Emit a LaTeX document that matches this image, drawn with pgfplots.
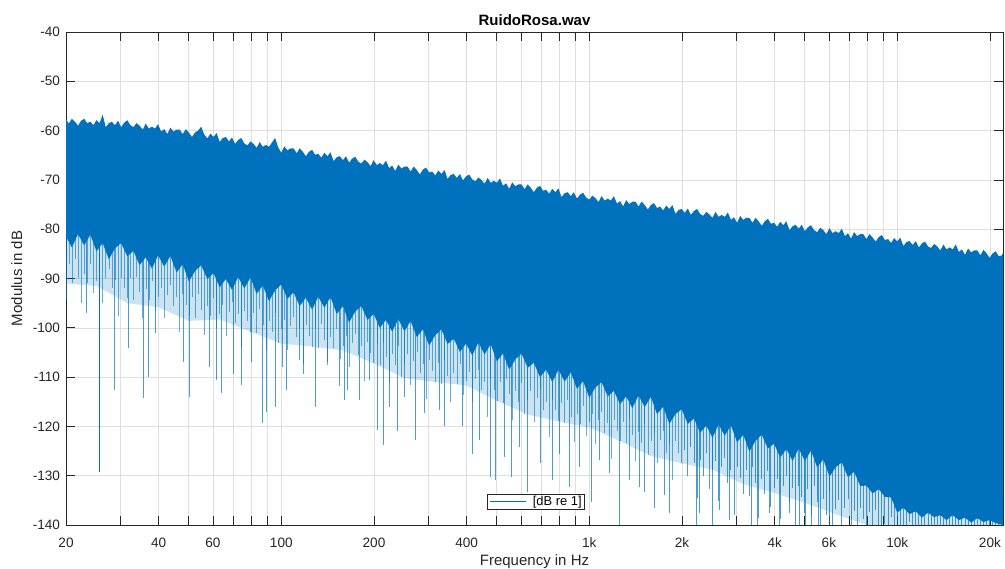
\documentclass[border=0pt]{standalone}
\usepackage{fontspec}
\setmainfont{Liberation Sans}
\usepackage{pgfplots}
\pgfplotsset{compat=1.18}
\definecolor{mblue}{RGB}{0,114,189}
\definecolor{axgray}{RGB}{38,38,38}
\definecolor{gridgray}{RGB}{223,223,223}
\begin{document}
\begin{tikzpicture}
\useasboundingbox (-66pt,-44pt) rectangle (939pt,525pt);
\begin{axis}[
  scale only axis, width=937pt, height=493pt,
  at={(0pt,0pt)}, anchor=south west,
  xmode=log, xmin=20, xmax=22050, ymin=-140, ymax=-40,
  xtick={20,30,40,50,60,70,80,90,100,200,300,400,500,600,700,800,900,1000,2000,3000,4000,5000,6000,7000,8000,9000,10000,20000},
  xticklabels={20,{},40,{},60,{},{},{},100,200,{},400,{},{},{},{},{},1k,2k,{},4k,{},6k,{},{},{},10k,20k},
  ytick={-140,-130,-120,-110,-100,-90,-80,-70,-60,-50,-40},
  yticklabels={-140,-130,-120,-110,-100,-90,-80,-70,-60,-50,-40},
  grid=major,
  major grid style={draw=gridgray, line width=0.5pt},
  tick align=inside,
  major tick length=9.4pt,
  minor tick length=0pt,
  axis line style={draw=axgray, line width=0.6pt},
  every tick/.style={draw=axgray, line width=0.6pt},
  tick label style={font=\fontsize{13.6}{16}\selectfont, text=axgray},
  xticklabel style={yshift=-9.5pt},
  yticklabel style={xshift=-2.5pt},
  every axis title/.style={at={(axis description cs:0.5,1)}, anchor=base, yshift=6pt, font=\bfseries\fontsize{15}{18}\selectfont, text=black},
  every axis x label/.style={at={(axis description cs:0.5,0)}, anchor=base, yshift=-40.7pt, font=\fontsize{15}{18}\selectfont, text=axgray},
  every axis y label/.style={at={(axis description cs:-0.0525,0.5)}, anchor=center, rotate=90, font=\fontsize{15}{18}\selectfont, text=axgray},
  title={RuidoRosa.wav},
  xlabel={Frequency in Hz},
  ylabel={Modulus in dB},
  legend style={at={(axis description cs:0.5016,0.0318)}, anchor=south, draw=axgray, line width=0.5pt, fill=white, font=\fontsize{12.9}{15}\selectfont, inner xsep=2pt, inner ysep=0.5pt, nodes={inner xsep=1pt, inner ysep=1.5pt}},
  legend cell align=left,
]
% light haze of thin spikes just below the dense body
\addplot[forget plot, fill=mblue, fill opacity=0.2, draw=none] table[row sep=\\] {
x y \\
20 -79 \\ 25.12 -80.5 \\ 31.62 -82 \\ 39.81 -83.8 \\ 50.12 -85.6 \\ 63.10 -87.3 \\ 79.43 -88.8 \\ 100 -90.2 \\ 125.9 -91.8 \\ 158.5 -93.6 \\
199.5 -95.2 \\ 251.2 -97.2 \\ 316.2 -99 \\ 398.1 -100.7 \\ 501.2 -102.8 \\ 631 -104.6 \\ 794.3 -107 \\ 1000 -109.2 \\ 1259 -111 \\ 1585 -113 \\
1995 -115.5 \\ 2512 -117.8 \\ 3162 -119.7 \\ 3981 -121.5 \\ 5012 -123.5 \\ 6310 -125.8 \\ 7943 -128 \\ 10000 -131 \\ 12590 -132 \\ 15850 -133 \\
19950 -134.2 \\ 22050 -134.5 \\
22050 -143 \\ 19950 -143 \\ 15850 -143 \\ 12590 -143 \\ 10000 -143 \\ 7943 -140 \\ 6310 -137.8 \\ 5012 -135.5 \\ 3981 -133.5 \\ 3162 -131.7 \\
2512 -128.8 \\ 1995 -127.5 \\ 1585 -126 \\ 1259 -123 \\ 1000 -120.2 \\ 794.3 -119 \\ 631 -117.6 \\ 501.2 -114.8 \\ 398.1 -111.7 \\ 316.2 -111 \\
251.2 -110.2 \\ 199.5 -107.2 \\ 158.5 -104.6 \\ 125.9 -103.8 \\ 100 -103.2 \\ 79.43 -100.8 \\ 63.10 -98.3 \\ 50.12 -98.6 \\ 39.81 -95.8 \\ 31.62 -95 \\
25.12 -91.5 \\ 20 -91 \\
};
% dense body of the spectrum: upper envelope (left to right), then lower dense edge (right to left)
\addplot[forget plot, fill=mblue, draw=none] table[row sep=\\] {
x y \\
20.00 -57.7 \\ 20.42 -58.6 \\ 20.89 -57.6 \\ 21.38 -58.2 \\ 21.88 -59.0 \\ 22.39 -58.0 \\ 22.91 -57.6 \\ 23.44 -58.5 \\ 23.99 -58.2 \\ 24.55 -58.9 \\
25.12 -57.9 \\ 25.70 -58.5 \\ 26.30 -56.8 \\ 26.92 -59.3 \\ 27.54 -58.5 \\ 28.18 -58.2 \\ 28.84 -58.9 \\ 29.51 -58.0 \\ 30.20 -59.3 \\ 30.90 -58.4 \\
31.62 -57.9 \\ 32.36 -58.9 \\ 33.11 -59.3 \\ 33.88 -58.5 \\ 34.67 -59.0 \\ 35.48 -59.8 \\ 36.31 -58.6 \\ 37.15 -59.6 \\ 38.02 -59.2 \\ 38.90 -59.6 \\
39.81 -58.7 \\ 40.74 -60.2 \\ 41.69 -59.7 \\ 42.66 -60.7 \\ 43.65 -59.4 \\ 44.67 -60.2 \\ 45.71 -59.8 \\ 46.77 -59.8 \\ 47.86 -60.7 \\ 48.98 -59.7 \\
50.12 -60.4 \\ 51.29 -61.3 \\ 52.48 -60.4 \\ 53.70 -60.0 \\ 54.95 -59.2 \\ 56.23 -60.8 \\ 57.54 -61.6 \\ 58.88 -60.6 \\ 60.26 -61.3 \\ 61.66 -60.5 \\
63.10 -62.3 \\ 64.57 -61.5 \\ 66.07 -61.3 \\ 67.61 -62.2 \\ 69.18 -61.4 \\ 70.79 -62.7 \\ 72.44 -61.9 \\ 74.13 -61.5 \\ 75.86 -62.6 \\ 77.62 -63.0 \\
79.43 -62.2 \\ 81.28 -62.7 \\ 83.18 -63.5 \\ 85.11 -62.3 \\ 87.10 -63.3 \\ 89.13 -62.9 \\ 91.20 -63.3 \\ 93.33 -62.4 \\ 95.50 -61.5 \\ 97.72 -63.4 \\
100.0 -64.5 \\ 102.3 -63.2 \\ 104.7 -64.0 \\ 107.2 -63.6 \\ 109.6 -63.6 \\ 112.2 -64.6 \\ 114.8 -63.6 \\ 117.5 -64.3 \\ 120.2 -65.2 \\ 123.0 -64.3 \\
125.9 -63.9 \\ 128.8 -64.9 \\ 131.8 -64.7 \\ 134.9 -65.5 \\ 138.0 -64.5 \\ 141.3 -65.2 \\ 144.5 -64.4 \\ 147.9 -66.2 \\ 151.4 -65.4 \\ 154.9 -65.2 \\
158.5 -66.0 \\ 162.2 -65.2 \\ 166.0 -66.5 \\ 169.8 -65.7 \\ 173.8 -65.3 \\ 177.8 -66.3 \\ 182.0 -66.7 \\ 186.2 -65.9 \\ 190.5 -66.4 \\ 195.0 -67.2 \\
199.5 -66.0 \\ 204.2 -67.0 \\ 208.9 -66.6 \\ 213.8 -67.0 \\ 218.8 -66.1 \\ 223.9 -67.6 \\ 229.1 -67.1 \\ 234.4 -68.2 \\ 239.9 -66.9 \\ 245.5 -67.7 \\
251.2 -67.3 \\ 257.0 -67.3 \\ 263.0 -68.3 \\ 269.2 -67.3 \\ 275.4 -68.0 \\ 281.8 -68.9 \\ 288.4 -67.9 \\ 295.1 -67.5 \\ 302.0 -68.5 \\ 309.0 -68.3 \\
316.2 -69.1 \\ 323.6 -68.1 \\ 331.1 -68.8 \\ 338.8 -68.0 \\ 346.7 -69.8 \\ 354.8 -69.0 \\ 363.1 -68.8 \\ 371.5 -69.6 \\ 380.2 -68.8 \\ 389.0 -70.1 \\
398.1 -69.3 \\ 407.4 -68.9 \\ 416.9 -69.9 \\ 426.6 -70.3 \\ 436.5 -69.5 \\ 446.7 -70.0 \\ 457.1 -70.8 \\ 467.7 -69.6 \\ 478.6 -70.6 \\ 489.8 -70.2 \\
501.2 -70.6 \\ 512.9 -69.7 \\ 524.8 -71.2 \\ 537.0 -70.7 \\ 549.5 -71.8 \\ 562.3 -70.5 \\ 575.4 -71.3 \\ 588.8 -70.9 \\ 602.6 -70.9 \\ 616.6 -71.9 \\
631.0 -70.9 \\ 645.7 -71.6 \\ 660.7 -72.5 \\ 676.1 -71.6 \\ 691.8 -71.2 \\ 707.9 -72.2 \\ 724.4 -72.0 \\ 741.3 -72.8 \\ 758.6 -71.8 \\ 776.2 -72.5 \\
794.3 -71.7 \\ 812.8 -73.5 \\ 831.8 -72.7 \\ 851.1 -72.5 \\ 871.0 -73.3 \\ 891.3 -72.5 \\ 912.0 -73.8 \\ 933.3 -73.0 \\ 955.0 -72.6 \\ 977.2 -73.6 \\
1000 -74.0 \\ 1023 -73.2 \\ 1047 -73.7 \\ 1072 -74.5 \\ 1096 -73.3 \\ 1122 -74.2 \\ 1148 -73.8 \\ 1175 -74.2 \\ 1202 -73.3 \\ 1230 -74.8 \\
1259 -74.3 \\ 1288 -75.4 \\ 1318 -74.1 \\ 1349 -74.9 \\ 1380 -74.4 \\ 1413 -74.4 \\ 1445 -75.4 \\ 1479 -74.4 \\ 1514 -75.1 \\ 1549 -76.0 \\
1585 -75.1 \\ 1622 -74.7 \\ 1660 -75.7 \\ 1698 -75.4 \\ 1738 -76.2 \\ 1778 -75.2 \\ 1820 -75.9 \\ 1862 -75.1 \\ 1905 -76.9 \\ 1950 -76.1 \\
1995 -75.9 \\ 2042 -76.7 \\ 2089 -75.8 \\ 2138 -77.1 \\ 2188 -76.3 \\ 2239 -75.9 \\ 2291 -76.9 \\ 2344 -77.3 \\ 2399 -76.5 \\ 2455 -77.0 \\
2512 -77.7 \\ 2570 -76.5 \\ 2630 -77.5 \\ 2692 -77.1 \\ 2754 -77.5 \\ 2818 -76.6 \\ 2884 -78.1 \\ 2951 -77.6 \\ 3020 -78.7 \\ 3090 -77.3 \\
3162 -78.1 \\ 3236 -77.7 \\ 3311 -77.7 \\ 3388 -78.7 \\ 3467 -77.7 \\ 3548 -78.4 \\ 3631 -79.3 \\ 3715 -78.4 \\ 3802 -77.9 \\ 3890 -78.9 \\
3981 -78.7 \\ 4074 -79.5 \\ 4169 -78.5 \\ 4266 -79.2 \\ 4365 -78.4 \\ 4467 -80.2 \\ 4571 -79.4 \\ 4677 -79.1 \\ 4786 -79.9 \\ 4898 -79.1 \\
5012 -80.4 \\ 5129 -79.6 \\ 5248 -79.2 \\ 5370 -80.2 \\ 5495 -80.6 \\ 5623 -79.7 \\ 5754 -80.2 \\ 5888 -81.0 \\ 6026 -79.8 \\ 6166 -80.8 \\
6310 -80.4 \\ 6457 -80.8 \\ 6607 -79.9 \\ 6761 -81.4 \\ 6918 -80.8 \\ 7079 -81.9 \\ 7244 -80.6 \\ 7413 -81.4 \\ 7586 -81.0 \\ 7762 -81.0 \\
7943 -82.0 \\ 8128 -81.0 \\ 8318 -81.7 \\ 8511 -82.5 \\ 8710 -81.6 \\ 8913 -81.2 \\ 9120 -82.2 \\ 9333 -82.0 \\ 9550 -82.8 \\ 9772 -81.8 \\
10000 -82.5 \\ 10230 -81.7 \\ 10470 -83.4 \\ 10720 -82.6 \\ 10960 -82.4 \\ 11220 -83.2 \\ 11480 -82.4 \\ 11750 -83.7 \\ 12020 -82.9 \\ 12300 -82.5 \\
12590 -83.5 \\ 12880 -83.8 \\ 13180 -83.0 \\ 13490 -83.5 \\ 13800 -84.3 \\ 14130 -83.1 \\ 14450 -84.1 \\ 14790 -83.7 \\ 15140 -84.1 \\ 15490 -83.1 \\
15850 -84.6 \\ 16220 -84.1 \\ 16600 -85.2 \\ 16980 -83.9 \\ 17380 -84.7 \\ 17780 -84.3 \\ 18200 -84.3 \\ 18620 -85.3 \\ 19050 -84.2 \\ 19500 -84.9 \\
19950 -85.8 \\ 20420 -84.9 \\ 20890 -84.5 \\ 21380 -85.5 \\ 21880 -85.3 \\ 22050 -84.8 \\
22050 -140 \\ 20890 -139.6 \\ 19950 -139.0 \\ 19050 -139.4 \\ 18200 -138.6 \\ 17380 -139.5 \\ 16600 -138.5 \\ 15850 -139.0 \\ 15140 -138.0 \\ 14450 -139.0 \\
13800 -138.0 \\ 13180 -138.4 \\ 12590 -137.5 \\ 12020 -138.5 \\ 11480 -137.2 \\ 10960 -137.8 \\ 10470 -136.5 \\ 10000 -137.5 \\ 9550 -134.4 \\ 9120 -134.3 \\
8710 -132.7 \\ 8318 -133.6 \\ 7943 -132.0 \\ 7586 -132.1 \\ 7244 -129.2 \\ 6918 -130.3 \\ 6607 -127.3 \\ 6310 -128.3 \\ 6026 -130.2 \\ 5754 -126.7 \\
5495 -128.3 \\ 5248 -124.9 \\ 5012 -127.0 \\ 4786 -124.5 \\ 4571 -127.0 \\ 4365 -124.6 \\ 4169 -126.3 \\ 3981 -123.5 \\ 3802 -124.5 \\ 3631 -121.7 \\
3467 -122.9 \\ 3311 -125.1 \\ 3162 -121.7 \\ 3020 -123.2 \\ 2884 -119.8 \\ 2754 -121.9 \\ 2630 -119.6 \\ 2512 -122.3 \\ 2399 -119.8 \\ 2291 -121.3 \\
2188 -118.4 \\ 2089 -119.5 \\ 1995 -116.5 \\ 1905 -117.5 \\ 1820 -119.5 \\ 1738 -116.0 \\ 1660 -117.5 \\ 1585 -114.0 \\ 1514 -116.1 \\ 1445 -113.7 \\
1380 -116.3 \\ 1318 -113.9 \\ 1259 -115.5 \\ 1202 -112.8 \\ 1148 -113.9 \\ 1096 -111.0 \\ 1047 -112.1 \\ 1000 -114.2 \\ 955.0 -110.8 \\ 912.0 -112.4 \\
871.0 -109.0 \\ 831.8 -110.9 \\ 794.3 -108.5 \\ 758.6 -111.0 \\ 724.4 -108.5 \\ 691.8 -110.0 \\ 660.7 -107.1 \\ 631.0 -108.1 \\ 602.6 -105.2 \\ 575.4 -106.4 \\
549.5 -108.5 \\ 524.8 -105.2 \\ 501.2 -106.8 \\ 478.6 -103.3 \\ 457.1 -105.4 \\ 436.5 -103.0 \\ 416.9 -105.6 \\ 398.1 -103.2 \\ 380.2 -104.9 \\ 363.1 -102.2 \\
346.7 -103.3 \\ 331.1 -100.3 \\ 316.2 -101.5 \\ 302.0 -103.6 \\ 288.4 -100.3 \\ 275.4 -101.9 \\ 263.0 -98.6 \\ 251.2 -100.7 \\ 239.9 -98.2 \\ 229.1 -100.8 \\
218.8 -98.4 \\ 208.9 -100.0 \\ 199.5 -97.2 \\ 190.5 -98.4 \\ 182.0 -95.6 \\ 173.8 -96.7 \\ 166.0 -98.9 \\ 158.5 -95.6 \\ 151.4 -97.2 \\ 144.5 -93.8 \\
138.0 -95.9 \\ 131.8 -93.7 \\ 125.9 -96.3 \\ 120.2 -93.9 \\ 114.8 -95.6 \\ 109.6 -92.8 \\ 104.7 -94.1 \\ 100.0 -91.2 \\ 95.50 -92.4 \\ 91.20 -94.6 \\
87.10 -91.4 \\ 83.18 -93.1 \\ 79.43 -89.8 \\ 75.86 -92.0 \\ 72.44 -89.7 \\ 69.18 -92.3 \\ 66.07 -90.1 \\ 63.10 -91.8 \\ 60.26 -88.9 \\ 57.54 -90.1 \\
54.95 -87.3 \\ 52.48 -88.5 \\ 50.12 -90.6 \\ 47.86 -87.1 \\ 45.71 -88.8 \\ 43.65 -85.4 \\ 41.69 -87.6 \\ 39.81 -85.3 \\ 38.02 -88.0 \\ 36.31 -85.7 \\
34.67 -87.3 \\ 33.11 -84.4 \\ 31.62 -85.5 \\ 30.20 -82.8 \\ 28.84 -83.9 \\ 27.54 -86.1 \\ 26.30 -82.8 \\ 25.12 -84.5 \\ 23.99 -81.1 \\ 22.91 -83.3 \\
21.88 -81.0 \\ 20.89 -83.7 \\ 20.00 -81.5 \\
};
% downward spikes below the dense region, low frequencies
\addplot[forget plot, mblue, opacity=0.6, line width=0.55pt, no markers, unbounded coords=jump] table[row sep=\\] {
x y \\
20.42 -77 \\ 20.42 -87 \\ 20.42 nan \\ 20.89 -77 \\ 20.89 -91 \\ 20.89 nan \\ 21.38 -77 \\ 21.38 -86 \\ 21.38 nan \\ 21.88 -78 \\ 21.88 -90 \\ 21.88 nan \\
22.39 -78 \\ 22.39 -95 \\ 22.39 nan \\ 22.91 -78 \\ 22.91 -89 \\ 22.91 nan \\ 23.44 -78 \\ 23.44 -91 \\ 23.44 nan \\ 23.99 -78 \\ 23.99 -87 \\ 23.99 nan \\
24.55 -78 \\ 24.55 -93 \\ 24.55 nan \\ 25.12 -79 \\ 25.12 -90.5 \\ 25.12 nan \\ 25.70 -79 \\ 25.70 -89 \\ 25.70 nan \\ 26.30 -79 \\ 26.30 -95 \\ 26.30 nan \\
26.92 -79 \\ 26.92 -90 \\ 26.92 nan \\ 27.54 -79 \\ 27.54 -88 \\ 27.54 nan \\ 28.18 -79 \\ 28.18 -92 \\ 28.18 nan \\ 28.84 -79 \\ 28.84 -90.4 \\ 28.84 nan \\
29.51 -80 \\ 29.51 -97.6 \\ 29.51 nan \\ 30.20 -80 \\ 30.20 -89.8 \\ 30.20 nan \\ 30.90 -80 \\ 30.90 -92 \\ 30.90 nan \\ 31.62 -80 \\ 31.62 -94 \\ 31.62 nan \\
32.36 -80 \\ 32.36 -90 \\ 32.36 nan \\ 33.11 -80 \\ 33.11 -94.4 \\ 33.11 nan \\ 33.88 -81 \\ 33.88 -89.6 \\ 33.88 nan \\ 34.67 -81 \\ 34.67 -92.8 \\ 34.67 nan \\
35.48 -81 \\ 35.48 -98 \\ 35.48 nan \\ 36.31 -81 \\ 36.31 -92.2 \\ 36.31 nan \\ 37.15 -81 \\ 37.15 -94.3 \\ 37.15 nan \\ 38.02 -81 \\ 38.02 -90.5 \\ 38.02 nan \\
38.90 -82 \\ 38.90 -96.6 \\ 38.90 nan \\ 39.81 -82 \\ 39.81 -93.8 \\ 39.81 nan \\ 40.74 -82 \\ 40.74 -92 \\ 40.74 nan \\ 41.69 -82 \\ 41.69 -98.1 \\ 41.69 nan \\
42.66 -82 \\ 42.66 -93.3 \\ 42.66 nan \\ 43.65 -82 \\ 43.65 -91.4 \\ 43.65 nan \\ 44.67 -83 \\ 44.67 -95.6 \\ 44.67 nan \\ 45.71 -83 \\ 45.71 -93.8 \\ 45.71 nan \\
46.77 -83 \\ 46.77 -100.9 \\ 46.77 nan \\ 47.86 -83 \\ 47.86 -93.1 \\ 47.86 nan \\ 48.98 -83 \\ 48.98 -95.4 \\ 48.98 nan \\ 50.12 -84 \\ 50.12 -97.6 \\ 50.12 nan \\
51.29 -84 \\ 51.29 -93.8 \\ 51.29 nan \\ 52.48 -84 \\ 52.48 -98 \\ 52.48 nan \\ 53.70 -84 \\ 53.70 -93.1 \\ 53.70 nan \\ 54.95 -84 \\ 54.95 -96.3 \\ 54.95 nan \\
56.23 -84 \\ 56.23 -101.4 \\ 56.23 nan \\ 57.54 -85 \\ 57.54 -95.6 \\ 57.54 nan \\ 58.88 -85 \\ 58.88 -97.7 \\ 58.88 nan \\ 60.26 -85 \\ 60.26 -93.9 \\ 60.26 nan \\
61.66 -85 \\ 61.66 -100.1 \\ 61.66 nan \\ 63.10 -85 \\ 63.10 -97.3 \\ 63.10 nan \\ 64.57 -85 \\ 64.57 -95.4 \\ 64.57 nan \\ 66.07 -86 \\ 66.07 -101.6 \\ 66.07 nan \\
67.61 -86 \\ 67.61 -96.7 \\ 67.61 nan \\ 69.18 -86 \\ 69.18 -94.8 \\ 69.18 nan \\ 70.79 -86 \\ 70.79 -99 \\ 70.79 nan \\ 72.44 -86 \\ 72.44 -97.2 \\ 72.44 nan \\
74.13 -86 \\ 74.13 -104.3 \\ 74.13 nan \\ 75.86 -87 \\ 75.86 -96.5 \\ 75.86 nan \\ 77.62 -87 \\ 77.62 -98.7 \\ 77.62 nan \\ 79.43 -87 \\ 79.43 -100.8 \\ 79.43 nan \\
81.28 -87 \\ 81.28 -96.9 \\ 81.28 nan \\ 83.18 -87 \\ 83.18 -101.1 \\ 83.18 nan \\ 85.11 -87 \\ 85.11 -96.2 \\ 85.11 nan \\ 87.10 -87 \\ 87.10 -99.4 \\ 87.10 nan \\
89.13 -88 \\ 89.13 -104.5 \\ 89.13 nan \\ 91.20 -88 \\ 91.20 -98.6 \\ 91.20 nan \\ 93.33 -88 \\ 93.33 -100.8 \\ 93.33 nan \\ 95.50 -88 \\ 95.50 -96.9 \\ 95.50 nan \\
97.72 -88 \\ 97.72 -103.1 \\ 97.72 nan \\ 100.0 -88 \\ 100.0 -100.2 \\ 100.0 nan \\ 102.3 -88 \\ 102.3 -98.4 \\ 102.3 nan \\ 104.7 -89 \\ 104.7 -104.6 \\ 104.7 nan \\
107.2 -89 \\ 107.2 -99.7 \\ 107.2 nan \\ 109.6 -89 \\ 109.6 -97.8 \\ 109.6 nan \\ 112.2 -89 \\ 112.2 -101.9 \\ 112.2 nan \\ 114.8 -89 \\ 114.8 -100.1 \\ 114.8 nan \\
117.5 -89 \\ 117.5 -107.3 \\ 117.5 nan \\ 120.2 -89 \\ 120.2 -99.4 \\ 120.2 nan \\ 123.0 -90 \\ 123.0 -101.6 \\ 123.0 nan \\ 125.9 -90 \\ 125.9 -103.8 \\ 125.9 nan \\
128.8 -90 \\ 128.8 -100 \\ 128.8 nan \\ 131.8 -90 \\ 131.8 -104.2 \\ 131.8 nan \\ 134.9 -90 \\ 134.9 -99.2 \\ 134.9 nan \\ 138.0 -90 \\ 138.0 -102.4 \\ 138.0 nan \\
141.3 -91 \\ 141.3 -107.6 \\ 141.3 nan \\ 144.5 -91 \\ 144.5 -101.8 \\ 144.5 nan \\ 147.9 -91 \\ 147.9 -104 \\ 147.9 nan \\ 151.4 -91 \\ 151.4 -100.2 \\ 151.4 nan \\
154.9 -91 \\ 154.9 -106.4 \\ 154.9 nan \\ 158.5 -92 \\ 158.5 -103.6 \\ 158.5 nan \\ 162.2 -92 \\ 162.2 -101.7 \\ 162.2 nan \\ 166.0 -92 \\ 166.0 -107.9 \\ 166.0 nan \\
169.8 -92 \\ 169.8 -103.1 \\ 169.8 nan \\ 173.8 -92 \\ 173.8 -101.2 \\ 173.8 nan \\ 177.8 -93 \\ 177.8 -105.5 \\ 177.8 nan \\ 182.0 -93 \\ 182.0 -103.6 \\ 182.0 nan \\
186.2 -93 \\ 186.2 -110.8 \\ 186.2 nan \\ 190.5 -93 \\ 190.5 -102.9 \\ 190.5 nan \\ 195.0 -93 \\ 195.0 -105.1 \\ 195.0 nan \\ 199.5 -93 \\ 199.5 -107.2 \\ 199.5 nan \\
204.2 -93 \\ 204.2 -103.4 \\ 204.2 nan \\ 208.9 -94 \\ 208.9 -107.5 \\ 208.9 nan \\ 213.8 -94 \\ 213.8 -102.8 \\ 213.8 nan \\ 218.8 -94 \\ 218.8 -105.9 \\ 218.8 nan \\
223.9 -94 \\ 223.9 -111 \\ 223.9 nan \\ 229.1 -94 \\ 229.1 -105.3 \\ 229.1 nan \\ 234.4 -95 \\ 234.4 -107.5 \\ 234.4 nan \\ 239.9 -95 \\ 239.9 -103.7 \\ 239.9 nan \\
245.5 -95 \\ 245.5 -110 \\ 245.5 nan \\ 251.2 -95 \\ 251.2 -107.2 \\ 251.2 nan \\ 257.0 -95 \\ 257.0 -105.4 \\ 257.0 nan \\ 263.0 -96 \\ 263.0 -111.6 \\ 263.0 nan \\
269.2 -96 \\ 269.2 -106.8 \\ 269.2 nan \\ 275.4 -96 \\ 275.4 -104.9 \\ 275.4 nan \\ 281.8 -96 \\ 281.8 -109.1 \\ 281.8 nan \\ 288.4 -96 \\ 288.4 -107.3 \\ 288.4 nan \\
295.1 -97 \\ 295.1 -114.5 \\ 295.1 nan \\ 302.0 -97 \\ 302.0 -106.6 \\ 302.0 nan \\ 309.0 -97 \\ 309.0 -108.8 \\ 309.0 nan \\ 316.2 -97 \\ 316.2 -111 \\ 316.2 nan \\
323.6 -97 \\ 323.6 -107.2 \\ 323.6 nan \\ 331.1 -97 \\ 331.1 -111.3 \\ 331.1 nan \\ 338.8 -98 \\ 338.8 -106.6 \\ 338.8 nan \\ 346.7 -98 \\ 346.7 -109.8 \\ 346.7 nan \\
354.8 -98 \\ 354.8 -115 \\ 354.8 nan \\ 363.1 -98 \\ 363.1 -109.2 \\ 363.1 nan \\ 371.5 -98 \\ 371.5 -111.3 \\ 371.5 nan \\ 380.2 -98 \\ 380.2 -107.4 \\ 380.2 nan \\
389.0 -99 \\ 389.0 -113.6 \\ 389.0 nan \\ 398.1 -99 \\ 398.1 -110.7 \\ 398.1 nan \\ 407.4 -99 \\ 407.4 -108.9 \\ 407.4 nan \\ 416.9 -99 \\ 416.9 -115.1 \\ 416.9 nan \\
426.6 -99 \\ 426.6 -110.3 \\ 426.6 nan \\ 436.5 -100 \\ 436.5 -108.5 \\ 436.5 nan \\ 446.7 -100 \\ 446.7 -112.7 \\ 446.7 nan \\ 457.1 -100 \\ 457.1 -110.9 \\ 457.1 nan \\
467.7 -100 \\ 467.7 -118.1 \\ 467.7 nan \\ 478.6 -100 \\ 478.6 -110.3 \\ 478.6 nan \\ 489.8 -101 \\ 489.8 -112.6 \\ 489.8 nan \\ 501.2 -101 \\ 501.2 -114.8 \\ 501.2 nan \\
512.9 -101 \\ 512.9 -111 \\ 512.9 nan \\ 524.8 -101 \\ 524.8 -115.2 \\ 524.8 nan \\ 537.0 -101 \\ 537.0 -110.3 \\ 537.0 nan \\ 549.5 -102 \\ 549.5 -113.5 \\ 549.5 nan \\
562.3 -102 \\ 562.3 -118.7 \\ 562.3 nan \\ 575.4 -102 \\ 575.4 -112.9 \\ 575.4 nan \\ 588.8 -102 \\ 588.8 -115.1 \\ 588.8 nan \\ 602.6 -102 \\ 602.6 -111.2 \\ 602.6 nan \\
616.6 -102 \\ 616.6 -117.4 \\ 616.6 nan \\ 631.0 -103 \\ 631.0 -114.6 \\ 631.0 nan \\ 645.7 -103 \\ 645.7 -112.8 \\ 645.7 nan \\ 660.7 -103 \\ 660.7 -119.1 \\ 660.7 nan \\
676.1 -103 \\ 676.1 -114.3 \\ 676.1 nan \\ 691.8 -104 \\ 691.8 -112.5 \\ 691.8 nan \\ 707.9 -104 \\ 707.9 -116.7 \\ 707.9 nan \\ 724.4 -104 \\ 724.4 -115 \\ 724.4 nan \\
741.3 -104 \\ 741.3 -122.2 \\ 741.3 nan \\ 758.6 -105 \\ 758.6 -114.5 \\ 758.6 nan \\ 776.2 -105 \\ 776.2 -116.7 \\ 776.2 nan \\ 794.3 -105 \\ 794.3 -119 \\ 794.3 nan \\
812.8 -105 \\ 812.8 -115.2 \\ 812.8 nan \\ 831.8 -105 \\ 831.8 -119.4 \\ 831.8 nan \\ 851.1 -106 \\ 851.1 -114.7 \\ 851.1 nan \\ 871.0 -106 \\ 871.0 -118 \\ 871.0 nan \\
891.3 -106 \\ 891.3 -123.2 \\ 891.3 nan \\ 912.0 -106 \\ 912.0 -117.4 \\ 912.0 nan \\ 933.3 -107 \\ 933.3 -119.6 \\ 933.3 nan \\ 955.0 -107 \\ 955.0 -115.8 \\ 955.0 nan \\
977.2 -107 \\ 977.2 -122 \\ 977.2 nan \\ 1000 -107 \\ 1000 -119.2 \\ 1000 nan \\ 1023 -107 \\ 1023 -117.4 \\ 1023 nan \\ 1047 -108 \\ 1047 -123.6 \\ 1047 nan \\
1072 -108 \\ 1072 -118.8 \\ 1072 nan \\ 1096 -108 \\ 1096 -117 \\ 1096 nan \\ 1122 -108 \\ 1122 -121.3 \\ 1122 nan \\ 1148 -108 \\ 1148 -119.4 \\ 1148 nan \\
1175 -109 \\ 1175 -126.6 \\ 1175 nan \\ 1202 -109 \\ 1202 -118.8 \\ 1202 nan \\ 1230 -109 \\ 1230 -120.9 \\ 1230 nan \\ 1259 -109 \\ 1259 -123 \\ 1259 nan \\
1288 -109 \\ 1288 -119.2 \\ 1288 nan \\ 1318 -109 \\ 1318 -123.4 \\ 1318 nan \\ 1349 -110 \\ 1349 -118.6 \\ 1349 nan \\ 1380 -110 \\ 1380 -121.8 \\ 1380 nan \\
1413 -110 \\ 1413 -127 \\ 1413 nan \\ 1445 -110 \\ 1445 -121.2 \\ 1445 nan \\ 1479 -110 \\ 1479 -123.4 \\ 1479 nan \\ 1514 -111 \\ 1514 -119.6 \\ 1514 nan \\
1549 -111 \\ 1549 -125.8 \\ 1549 nan \\ 1585 -111 \\ 1585 -123 \\ 1585 nan \\ 1622 -111 \\ 1622 -121.3 \\ 1622 nan \\ 1660 -112 \\ 1660 -127.5 \\ 1660 nan \\
1698 -112 \\ 1698 -122.8 \\ 1698 nan \\ 1738 -112 \\ 1738 -121 \\ 1738 nan \\ 1778 -112 \\ 1778 -125.3 \\ 1778 nan \\ 1820 -113 \\ 1820 -123.5 \\ 1820 nan \\
1862 -113 \\ 1862 -130.8 \\ 1862 nan \\ 1905 -113 \\ 1905 -123 \\ 1905 nan \\ 1950 -113 \\ 1950 -125.3 \\ 1950 nan \\ 1995 -114 \\ 1995 -127.5 \\ 1995 nan \\
};
% downward spikes, high frequencies
\addplot[forget plot, mblue, opacity=0.7, line width=0.9pt, no markers, unbounded coords=jump] table[row sep=\\] {
x y \\
2042 -114 \\ 2042 -124.7 \\ 2042 nan \\ 2089 -114 \\ 2089 -130 \\ 2089 nan \\ 2138 -114 \\ 2138 -124.2 \\ 2138 nan \\ 2188 -114 \\ 2188 -127.4 \\ 2188 nan \\
2239 -115 \\ 2239 -134.5 \\ 2239 nan \\ 2291 -115 \\ 2291 -126.8 \\ 2291 nan \\ 2344 -115 \\ 2344 -130 \\ 2344 nan \\ 2399 -115 \\ 2399 -125.3 \\ 2399 nan \\
2455 -116 \\ 2455 -132.6 \\ 2455 nan \\ 2512 -116 \\ 2512 -128.8 \\ 2512 nan \\ 2570 -116 \\ 2570 -127 \\ 2570 nan \\ 2630 -116 \\ 2630 -135.1 \\ 2630 nan \\
2692 -116 \\ 2692 -128.3 \\ 2692 nan \\ 2754 -116 \\ 2754 -126.4 \\ 2754 nan \\ 2818 -117 \\ 2818 -131.5 \\ 2818 nan \\ 2884 -117 \\ 2884 -128.8 \\ 2884 nan \\
2951 -117 \\ 2951 -138 \\ 2951 nan \\ 3020 -117 \\ 3020 -128.2 \\ 3020 nan \\ 3090 -117 \\ 3090 -130.5 \\ 3090 nan \\ 3162 -118 \\ 3162 -133.7 \\ 3162 nan \\
3236 -118 \\ 3236 -128.9 \\ 3236 nan \\ 3311 -118 \\ 3311 -134.1 \\ 3311 nan \\ 3388 -118 \\ 3388 -128.2 \\ 3388 nan \\ 3467 -118 \\ 3467 -131.4 \\ 3467 nan \\
3548 -119 \\ 3548 -138.5 \\ 3548 nan \\ 3631 -119 \\ 3631 -130.7 \\ 3631 nan \\ 3715 -119 \\ 3715 -133.8 \\ 3715 nan \\ 3802 -119 \\ 3802 -129 \\ 3802 nan \\
3890 -119 \\ 3890 -136.3 \\ 3890 nan \\ 3981 -119 \\ 3981 -132.5 \\ 3981 nan \\ 4074 -120 \\ 4074 -130.7 \\ 4074 nan \\ 4169 -120 \\ 4169 -138.8 \\ 4169 nan \\
4266 -120 \\ 4266 -132 \\ 4266 nan \\ 4365 -120 \\ 4365 -130.1 \\ 4365 nan \\ 4467 -120 \\ 4467 -135.3 \\ 4467 nan \\ 4571 -121 \\ 4571 -132.5 \\ 4571 nan \\
4677 -121 \\ 4677 -142 \\ 4677 nan \\ 4786 -121 \\ 4786 -132 \\ 4786 nan \\ 4898 -121 \\ 4898 -134.3 \\ 4898 nan \\ 5012 -121 \\ 5012 -137.5 \\ 5012 nan \\
5129 -122 \\ 5129 -132.7 \\ 5129 nan \\ 5248 -122 \\ 5248 -137.9 \\ 5248 nan \\ 5370 -122 \\ 5370 -132.1 \\ 5370 nan \\ 5495 -122 \\ 5495 -135.3 \\ 5495 nan \\
5623 -122 \\ 5623 -142 \\ 5623 nan \\ 5754 -123 \\ 5754 -134.7 \\ 5754 nan \\ 5888 -123 \\ 5888 -137.9 \\ 5888 nan \\ 6026 -123 \\ 6026 -133.2 \\ 6026 nan \\
6166 -123 \\ 6166 -140.5 \\ 6166 nan \\ 6310 -124 \\ 6310 -136.8 \\ 6310 nan \\ 6457 -124 \\ 6457 -135 \\ 6457 nan \\ 6607 -124 \\ 6607 -142 \\ 6607 nan \\
6761 -125 \\ 6761 -136.6 \\ 6761 nan \\ 6918 -125 \\ 6918 -134.8 \\ 6918 nan \\ 7079 -125 \\ 7079 -140 \\ 7079 nan \\ 7244 -125 \\ 7244 -137.2 \\ 7244 nan \\
7413 -125 \\ 7413 -142 \\ 7413 nan \\ 7586 -126 \\ 7586 -136.6 \\ 7586 nan \\ 7762 -126 \\ 7762 -138.8 \\ 7762 nan \\ 7943 -126 \\ 7943 -142 \\ 7943 nan \\
8128 -126 \\ 8128 -137.3 \\ 8128 nan \\ 8318 -127 \\ 8318 -142 \\ 8318 nan \\ 8511 -127 \\ 8511 -136.9 \\ 8511 nan \\ 8710 -127 \\ 8710 -140.2 \\ 8710 nan \\
8913 -128 \\ 8913 -142 \\ 8913 nan \\ 9120 -128 \\ 9120 -139.8 \\ 9120 nan \\ 9333 -128 \\ 9333 -142 \\ 9333 nan \\ 9550 -128 \\ 9550 -138.4 \\ 9550 nan \\
9772 -129 \\ 9772 -142 \\ 9772 nan \\ 10000 -129 \\ 10000 -142 \\ 10000 nan \\ 10230 -129 \\ 10230 -140.1 \\ 10230 nan \\ 10470 -129 \\ 10470 -142 \\ 10470 nan \\
10720 -129 \\ 10720 -141.3 \\ 10720 nan \\ 10960 -129 \\ 10960 -139.4 \\ 10960 nan \\ 11220 -130 \\ 11220 -142 \\ 11220 nan \\ 11480 -130 \\ 11480 -141.6 \\ 11480 nan \\
11750 -130 \\ 11750 -142 \\ 11750 nan \\ 12020 -130 \\ 12020 -140.8 \\ 12020 nan \\ 12300 -130 \\ 12300 -142 \\ 12300 nan \\ 12590 -130 \\ 12590 -142 \\ 12590 nan \\
12880 -130 \\ 12880 -141.1 \\ 12880 nan \\ 13180 -130 \\ 13180 -142 \\ 13180 nan \\ 13490 -130 \\ 13490 -140.3 \\ 13490 nan \\ 13800 -130 \\ 13800 -142 \\ 13800 nan \\
14130 -131 \\ 14130 -142 \\ 14130 nan \\ 14450 -131 \\ 14450 -142 \\ 14450 nan \\ 14790 -131 \\ 14790 -142 \\ 14790 nan \\ 15140 -131 \\ 15140 -140.8 \\ 15140 nan \\
15490 -131 \\ 15490 -142 \\ 15490 nan \\ 15850 -131 \\ 15850 -142 \\ 15850 nan \\ 16220 -132 \\ 16220 -142 \\ 16220 nan \\ 16600 -132 \\ 16600 -142 \\ 16600 nan \\
16980 -132 \\ 16980 -142 \\ 16980 nan \\ 17380 -132 \\ 17380 -142 \\ 17380 nan \\ 17780 -132 \\ 17780 -142 \\ 17780 nan \\ 18200 -132 \\ 18200 -142 \\ 18200 nan \\
18620 -132 \\ 18620 -142 \\ 18620 nan \\ 19050 -132 \\ 19050 -142 \\ 19050 nan \\ 19500 -132 \\ 19500 -142 \\ 19500 nan \\ 19950 -132 \\ 19950 -142 \\ 19950 nan \\
20420 -132 \\ 20420 -142 \\ 20420 nan \\ 20890 -132 \\ 20890 -142 \\ 20890 nan \\ 21380 -132 \\ 21380 -142 \\ 21380 nan \\ 21880 -132 \\ 21880 -142 \\ 21880 nan \\
};
% individual deep spikes
\addplot[forget plot, mblue, opacity=0.7, line width=0.65pt, no markers, unbounded coords=jump] table[row sep=\\] {
x y \\
20.05 -78 \\ 20.05 -94.4 \\ 20.05 nan \\ 23.2 -79 \\ 23.2 -97 \\ 23.2 nan \\ 28.8 -80.4 \\ 28.8 -112.6 \\ 28.8 nan \\ 31.8 -81 \\ 31.8 -104 \\ 31.8 nan \\
35.6 -82 \\ 35.6 -114.3 \\ 35.6 nan \\ 36.9 -82 \\ 36.9 -110 \\ 36.9 nan \\ 38.9 -82.6 \\ 38.9 -101 \\ 38.9 nan \\ 47.9 -84 \\ 47.9 -107 \\ 47.9 nan \\
50.1 -84.6 \\ 50.1 -114 \\ 50.1 nan \\ 58.6 -85.7 \\ 58.6 -108 \\ 58.6 nan \\ 61.4 -86 \\ 61.4 -110.6 \\ 61.4 nan \\ 64.1 -86.4 \\ 64.1 -113.3 \\ 64.1 nan \\
70.1 -87 \\ 70.1 -109.3 \\ 70.1 nan \\ 74.0 -87.3 \\ 74.0 -111.6 \\ 74.0 nan \\ 80.2 -87.8 \\ 80.2 -107 \\ 80.2 nan \\ 86.5 -88.2 \\ 86.5 -119.3 \\ 86.5 nan \\
89.1 -88.5 \\ 89.1 -117.1 \\ 89.1 nan \\ 95.9 -89 \\ 95.9 -116 \\ 95.9 nan \\ 100.5 -89.2 \\ 100.5 -108 \\ 100.5 nan \\ 104.2 -89.6 \\ 104.2 -112.6 \\ 104.2 nan \\
114.8 -90 \\ 114.8 -106.5 \\ 114.8 nan \\ 118.3 -90.3 \\ 118.3 -109.3 \\ 118.3 nan \\ 128.5 -91 \\ 128.5 -116 \\ 128.5 nan \\ 140.6 -91.6 \\ 140.6 -107 \\ 140.6 nan \\
154.9 -92.3 \\ 154.9 -111.8 \\ 154.9 nan \\ 160.7 -92.6 \\ 160.7 -114.6 \\ 160.7 nan \\ 164.4 -92.8 \\ 164.4 -112.6 \\ 164.4 nan \\ 179.9 -93.5 \\ 179.9 -114.6 \\ 179.9 nan \\
193.6 -94 \\ 193.6 -110.6 \\ 193.6 nan \\ 205.6 -94.5 \\ 205.6 -120.7 \\ 205.6 nan \\ 214.8 -94.8 \\ 214.8 -123.8 \\ 214.8 nan \\ 224.9 -95 \\ 224.9 -116 \\ 224.9 nan \\
238.8 -95.6 \\ 238.8 -121 \\ 238.8 nan \\ 251.2 -96.2 \\ 251.2 -114 \\ 251.2 nan \\ 272.9 -97 \\ 272.9 -122.8 \\ 272.9 nan \\ 291.7 -97.4 \\ 291.7 -117.3 \\ 291.7 nan \\
326.6 -98.2 \\ 326.6 -116.7 \\ 326.6 nan \\ 338.8 -98.6 \\ 338.8 -120 \\ 338.8 nan \\ 388.1 -99.6 \\ 388.1 -120 \\ 388.1 nan \\ 417.8 -100.1 \\ 417.8 -125.5 \\ 417.8 nan \\
440.6 -100.5 \\ 440.6 -122.8 \\ 440.6 nan \\ 478.6 -101.3 \\ 478.6 -130.3 \\ 478.6 nan \\ 496.6 -101.7 \\ 496.6 -130.8 \\ 496.6 nan \\ 530.9 -102.2 \\ 530.9 -126.2 \\ 530.9 nan \\
559.8 -102.6 \\ 559.8 -130.3 \\ 559.8 nan \\ 594.3 -103 \\ 594.3 -124.2 \\ 594.3 nan \\ 631.0 -103.6 \\ 631.0 -133.3 \\ 631.0 nan \\ 695.0 -104.4 \\ 695.0 -127.4 \\ 695.0 nan \\
760.3 -105.4 \\ 760.3 -130.9 \\ 760.3 nan \\ 801.7 -106 \\ 801.7 -125.5 \\ 801.7 nan \\ 863.0 -106.6 \\ 863.0 -132.3 \\ 863.0 nan \\ 929.0 -107.4 \\ 929.0 -128.2 \\ 929.0 nan \\
1016 -108.2 \\ 1016 -135.3 \\ 1016 nan \\ 1079 -108.8 \\ 1079 -126.8 \\ 1079 nan \\ 1164 -109.5 \\ 1164 -129.5 \\ 1164 nan \\ 1253 -110 \\ 1253 -141 \\ 1253 nan \\
1349 -110.6 \\ 1349 -130.9 \\ 1349 nan \\ 1455 -111.2 \\ 1455 -132.3 \\ 1455 nan \\ 1510 -111.6 \\ 1510 -133.3 \\ 1510 nan \\ 1626 -112.3 \\ 1626 -136.6 \\ 1626 nan \\
1754 -113 \\ 1754 -134 \\ 1754 nan \\ 1820 -113.5 \\ 1820 -137.6 \\ 1820 nan \\ 2228 -115.5 \\ 2228 -141 \\ 2228 nan \\ 2280 -115.8 \\ 2280 -137.6 \\ 2280 nan \\
2512 -116.8 \\ 2512 -141 \\ 2512 nan \\ 2642 -117 \\ 2642 -137 \\ 2642 nan \\ 2851 -117.5 \\ 2851 -139 \\ 2851 nan \\ 3357 -119 \\ 3357 -141 \\ 3357 nan \\
3516 -119.5 \\ 3516 -141 \\ 3516 nan \\ 3846 -120.5 \\ 3846 -137.6 \\ 3846 nan \\ 4140 -121 \\ 4140 -141 \\ 4140 nan \\ 4467 -121.3 \\ 4467 -137.6 \\ 4467 nan \\
4808 -122 \\ 4808 -141 \\ 4808 nan \\ 5012 -122.5 \\ 5012 -141 \\ 5012 nan \\ 5248 -123 \\ 5248 -141 \\ 5248 nan \\ 5559 -123.5 \\ 5559 -141 \\ 5559 nan \\
6026 -124 \\ 6026 -141 \\ 6026 nan \\
};
% the single deep spike near 26 Hz
\addplot[forget plot, mblue, line width=0.8pt, no markers] table[row sep=\\] {
x y \\ 25.6 -80 \\ 25.6 -129.2 \\
};
\addlegendimage{empty legend}
\addlegendentry{\textcolor{mblue}{\rule[0.3em]{36pt}{0.8pt}}\hspace{6.5pt}[dB re 1]\hspace{3pt}}
\end{axis}
\end{tikzpicture}
\end{document}
